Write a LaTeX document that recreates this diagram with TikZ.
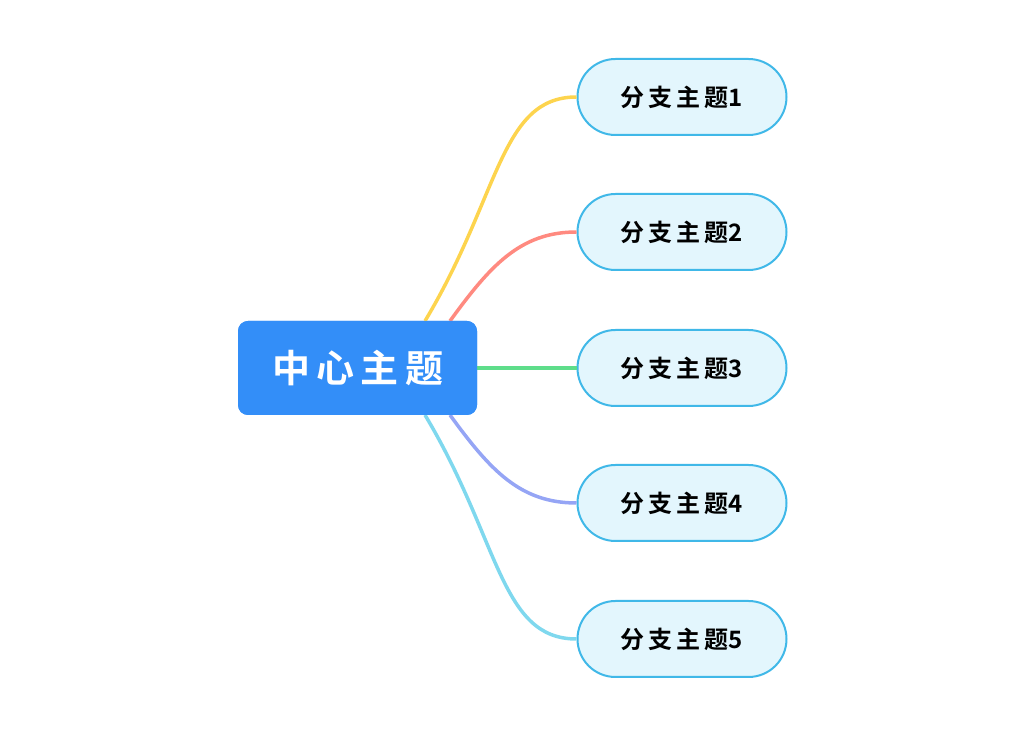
\documentclass[tikz,border=0pt]{standalone}
\usepackage{fontspec}
\newfontfamily\cjk{Noto Sans CJK SC Bold}
\definecolor{cfill}{HTML}{338EF8}
\definecolor{bfill}{HTML}{E3F6FD}
\definecolor{bdraw}{HTML}{40B8E8}
\definecolor{c1}{HTML}{FDD44E}
\definecolor{c2}{HTML}{FF8A80}
\definecolor{c3}{HTML}{5EDD8A}
\definecolor{c4}{HTML}{95A5F5}
\definecolor{c5}{HTML}{7FD8EE}
\tikzset{
 central/.style={fill=cfill,rounded corners=10pt,minimum width=239pt,minimum height=94pt,text=white,font=\cjk\fontsize{38}{42}\selectfont,inner sep=0},
 branch/.style={fill=bfill,draw=bdraw,line width=2pt,rounded corners=38pt,minimum width=209pt,minimum height=76pt,font=\cjk\fontsize{24}{28}\selectfont,inner sep=0},
 link/.style={line width=3.5pt}
}
\begin{document}
\begin{tikzpicture}[x=1pt,y=1pt]
\useasboundingbox (0,0) rectangle (1028,736);
\node[central] (c) at (357.5,368) {中\,心\,主\,题};
\foreach \i/\y in {1/97,2/232,3/368,4/503,5/639}{
 \node[branch] (b\i) at (682,736-\y) {分\,支\,主\,题\i};
}
\coordinate (s1) at (425,415);
\coordinate (s2) at (450,415);
\coordinate (s4) at (450,321);
\coordinate (s5) at (425,321);
\draw[link,c1] (s1) .. controls (500,540) and (500,639) .. (b1.west);
\draw[link,c2] (s2) .. controls (490,470) and (520,504) .. (b2.west);
\draw[link,c3] (c.east) -- (b3.west);
\draw[link,c4] (s4) .. controls (490,266) and (520,233) .. (b4.west);
\draw[link,c5] (s5) .. controls (500,196) and (500,97) .. (b5.west);
\node[central] at (357.5,368) {中\,心\,主\,题};
\end{tikzpicture}
\end{document}
